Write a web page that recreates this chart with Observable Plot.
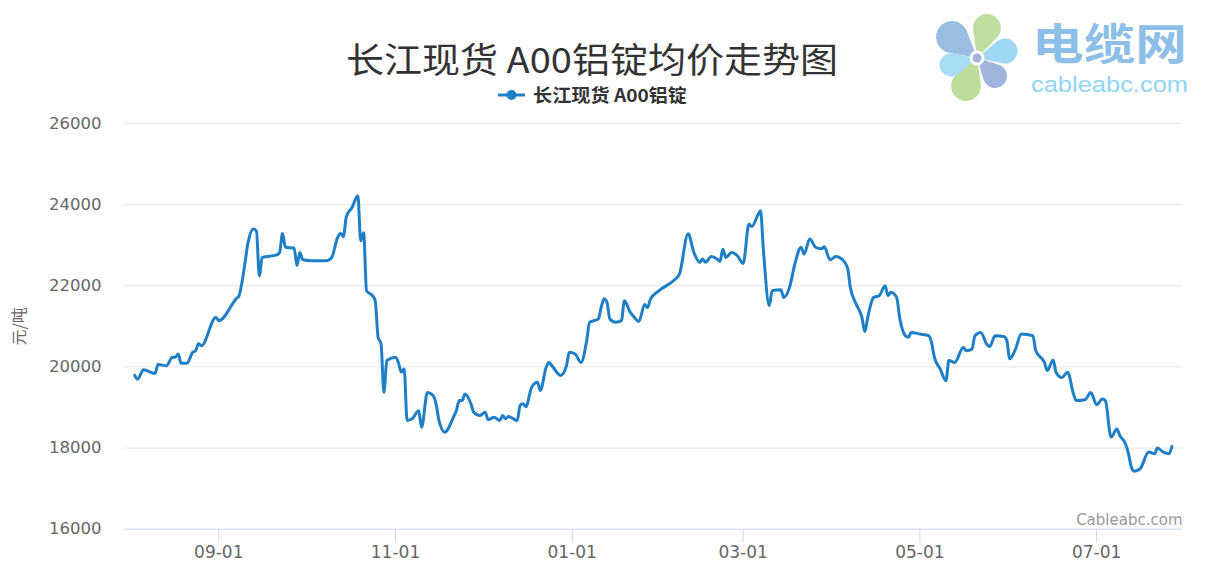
<!DOCTYPE html>
<html>
<head>
<meta charset="utf-8">
<script src="https://cdn.jsdelivr.net/npm/d3@7"></script>
<script src="https://cdn.jsdelivr.net/npm/@observablehq/plot@0.6"></script>
<style>
  html, body { margin: 0; padding: 0; background: #fff; }
  #wrap { position: relative; width: 1221px; height: 585px; overflow: hidden; background: #fff; }
  #wrap svg { position: absolute; left: 0; top: 0; }
</style>
</head>
<body>
<div id="wrap"></div>
<script>
// ---- Data (day of month, price in 元/吨) ----
const aug2021 = [[3,19790],[4,19700],[6,19930],[10,19840],[11,20060],[14,20030],[16,20240],[17,20240],[18,20320],[19,20090],[21,20090],[23,20360],[24,20400],[25,20570],[26,20520],[31,21220]];
const sep2021 = [[1,21140],[7,21680],[8,21760],[10,22540],[11,23030],[13,23400],[14,23350],[15,22250],[16,22700],[21,22760],[22,22820],[23,23290],[24,22950],[27,22930],[28,22500],[29,22820],[30,22640]];
const oct2021 = [[3,22620],[8,22620],[10,22700],[12,23190],[13,23290],[14,23210],[15,23690],[17,23930],[19,24220],[20,23110],[21,23310],[22,21880],[24,21760],[25,21630],[26,20730],[27,20570],[28,19370],[29,20160]];
const nov2021 = [[1,20240],[2,20110],[3,19870],[4,19950],[5,18680],[7,18740],[9,18920],[10,18510],[12,19370],[14,19290],[15,19090],[16,18680],[18,18390],[21,18760],[22,18920],[23,19170],[24,19170],[25,19335],[27,19100],[28,18880],[30,18800]];
const dec2021 = [[2,18880],[3,18700],[5,18760],[7,18680],[8,18800],[9,18720],[10,18780],[13,18680],[14,19050],[15,19090],[16,19020],[18,19500],[20,19620],[21,19420],[23,19990],[24,20110],[25,20030],[28,19790],[30,20030],[31,20360]];
const jan2022 = [[2,20320],[4,20110],[6,20650],[7,21100],[10,21180],[11,21470],[12,21680],[13,21590],[14,21180],[16,21100],[18,21140],[19,21630],[21,21350],[22,21260],[24,21120],[26,21540],[27,21460],[28,21670],[31,21880]];
const feb2022 = [[5,22130],[7,22290],[10,23280],[12,22820],[14,22580],[15,22660],[16,22580],[18,22720],[20,22660],[21,22600],[22,22900],[23,22700],[25,22820],[27,22740]];
const mar2022 = [[1,22550],[3,23520],[4,23460],[6,23730],[7,23850],[8,22870],[10,21510],[11,21880],[14,21900],[15,21710],[17,21960],[19,22580],[21,22950],[22,22780],[24,23150],[26,22950],[28,22910],[29,22960],[31,22640]];
const apr2022 = [[2,22720],[4,22660],[6,22450],[7,21960],[9,21550],[11,21220],[12,20870],[13,21220],[15,21710],[17,21760],[19,22000],[20,21760],[21,21840],[23,21710],[24,21220],[26,20770],[27,20730],[28,20850]];
const may2022 = [[1,20810],[4,20770],[5,20610],[6,20240],[8,19950],[10,19660],[11,20160],[13,20110],[16,20480],[17,20400],[19,20440],[20,20770],[22,20850],[24,20570],[25,20500],[27,20770],[30,20750],[31,20650]];
const jun2022 = [[1,20200],[3,20440],[5,20810],[9,20770],[10,20400],[13,20110],[14,19910],[16,20170],[17,19870],[19,19740],[21,19870],[23,19340],[24,19170],[27,19190],[29,19370]];
const jul2022 = [[1,19070],[3,19210],[4,19170],[6,18270],[8,18470],[9,18310],[11,18100],[12,17860],[13,17530],[14,17430],[16,17490],[19,17900],[21,17860],[22,18000],[24,17900],[26,17860],[27,18040]];

const months = [
  ["2021-08", aug2021], ["2021-09", sep2021], ["2021-10", oct2021], ["2021-11", nov2021],
  ["2021-12", dec2021], ["2022-01", jan2022], ["2022-02", feb2022], ["2022-03", mar2022],
  ["2022-04", apr2022], ["2022-05", may2022], ["2022-06", jun2022], ["2022-07", jul2022]
];

const yTicks = [16000, 18000, 20000, 22000, 24000, 26000];
const xTickDates = ["2021-09-01", "2021-11-01", "2022-01-01", "2022-03-01", "2022-05-01", "2022-07-01"];
const titleText = "长江现货 A00铝锭均价走势图";
const seriesName = "长江现货 A00铝锭";
const yLabel = "元/吨";
const creditText = "Cableabc.com";

// ---- Build ----
const parse = d3.utcParse("%Y-%m-%d");
const data = months.flatMap(([m, arr]) =>
  arr.map(([d, v]) => ({date: parse(`${m}-${String(d).padStart(2, "0")}`), price: v})));
const xTicks = xTickDates.map(parse);
const lineColor = "#1f7fc6";

const chart = Plot.plot({
  width: 1221,
  height: 585,
  marginTop: 123,
  marginRight: 39,
  marginBottom: 56.3,
  marginLeft: 124,
  style: {fontFamily: "'DejaVu Sans', Verdana, sans-serif", background: "transparent", overflow: "visible"},
  x: {type: "utc", domain: [new Date(Date.UTC(2021, 6, 30, 11)), new Date(Date.UTC(2022, 6, 30, 15, 30))]},
  y: {domain: [16000, 26000]},
  marks: [
    Plot.gridY(yTicks.slice(1), {stroke: "#e6e6e6", strokeOpacity: 1}),
    Plot.axisY({ticks: yTicks, tickFormat: d => String(d), tickSize: 0, tickPadding: 23, fontSize: 16.5, fill: "#666", label: null}),
    Plot.ruleY([16000], {stroke: "#ccd6eb", strokeWidth: 1}),
    Plot.axisX({ticks: xTicks, tickFormat: d3.utcFormat("%m-%d"), tickSize: 14, tickPadding: 3,
                stroke: "#ccd6eb", strokeOpacity: 1, fill: "#666", fontSize: 17, label: null}),
    Plot.line(data, {x: "date", y: "price", stroke: lineColor, strokeWidth: 3, curve: "monotone-x"}),
    Plot.text([yLabel], {text: d => d, frameAnchor: "left", dx: -104.5, rotate: -90, textAnchor: "middle",
                         lineAnchor: "middle", fontSize: 16, fill: "#666", fontFamily: "'Noto Sans CJK SC'"}),
    Plot.text([creditText], {text: d => d, frameAnchor: "bottom-right", lineAnchor: "bottom", dy: -4,
                             fontSize: 15, fill: "#999"})
  ]
});
document.getElementById("wrap").appendChild(chart);

// ---- Title, legend and logo overlay ----
const ns = "http://www.w3.org/2000/svg";
const over = d3.create("svg").attr("width", 1221).attr("height", 120).attr("xmlns", ns);
over.append("text").attr("x", 592).attr("y", 73).attr("text-anchor", "middle")
  .attr("font-family", "'Noto Sans CJK SC'").attr("font-size", 35).attr("fill", "#333")
  .attr("textLength", 492).attr("lengthAdjust", "spacingAndGlyphs").text(titleText);
// legend
over.append("line").attr("x1", 498).attr("x2", 525).attr("y1", 95).attr("y2", 95)
  .attr("stroke", lineColor).attr("stroke-width", 3);
over.append("circle").attr("cx", 511.5).attr("cy", 95).attr("r", 5).attr("fill", lineColor);
over.append("text").attr("x", 533).attr("y", 101.5).attr("font-family", "'Noto Sans CJK SC'")
  .attr("font-size", 18).attr("font-weight", "bold").attr("fill", "#333")
  .attr("textLength", 154).attr("lengthAdjust", "spacingAndGlyphs").text(seriesName);
// logo: six teardrop petals around a centre
const C = [977, 58];
const petals = [
  {bx: 952, by: 37, r: 16, c: "#8fb6de"},
  {bx: 987, by: 28, r: 14, c: "#b8da96"},
  {bx: 1005, by: 51, r: 12.5, c: "#93d4f4"},
  {bx: 995, by: 76, r: 12, c: "#96acda"},
  {bx: 966, by: 86, r: 15, c: "#b6d992"},
  {bx: 951, by: 65, r: 11.5, c: "#9dd8f5"}
];
const g = over.append("g");
for (const p of petals) {
  const dx = p.bx - C[0], dy = p.by - C[1];
  const d = Math.hypot(dx, dy), a = Math.atan2(dy, dx);
  const b = Math.asin(Math.min(0.95, p.r / d));
  const t = Math.sqrt(Math.max(0, d * d - p.r * p.r));
  const p1 = [C[0] + t * Math.cos(a - b), C[1] + t * Math.sin(a - b)];
  const p2 = [C[0] + t * Math.cos(a + b), C[1] + t * Math.sin(a + b)];
  g.append("path")
    .attr("d", `M${C[0]},${C[1]} L${p1[0]},${p1[1]} A${p.r},${p.r} 0 1 1 ${p2[0]},${p2[1]} Z`)
    .attr("fill", p.c).attr("fill-opacity", 0.9);
}
g.append("circle").attr("cx", C[0]).attr("cy", C[1]).attr("r", 6).attr("fill", "#a3b2dc")
  .attr("stroke", "#fff").attr("stroke-width", 3);
// logo wordmark
over.append("text").attr("x", 1032).attr("y", 59.5).attr("font-family", "'Noto Sans CJK SC'")
  .attr("font-size", 43).attr("font-weight", "bold").attr("fill", "#8dbfe8")
  .attr("textLength", 155).attr("lengthAdjust", "spacingAndGlyphs").text("电缆网");
over.append("text").attr("x", 1031).attr("y", 92).attr("font-family", "'Liberation Sans', sans-serif")
  .attr("font-size", 22).attr("fill", "#8fd5f5")
  .attr("textLength", 157).attr("lengthAdjust", "spacingAndGlyphs").text("cableabc.com");
document.getElementById("wrap").appendChild(over.node());
</script>
</body>
</html>
